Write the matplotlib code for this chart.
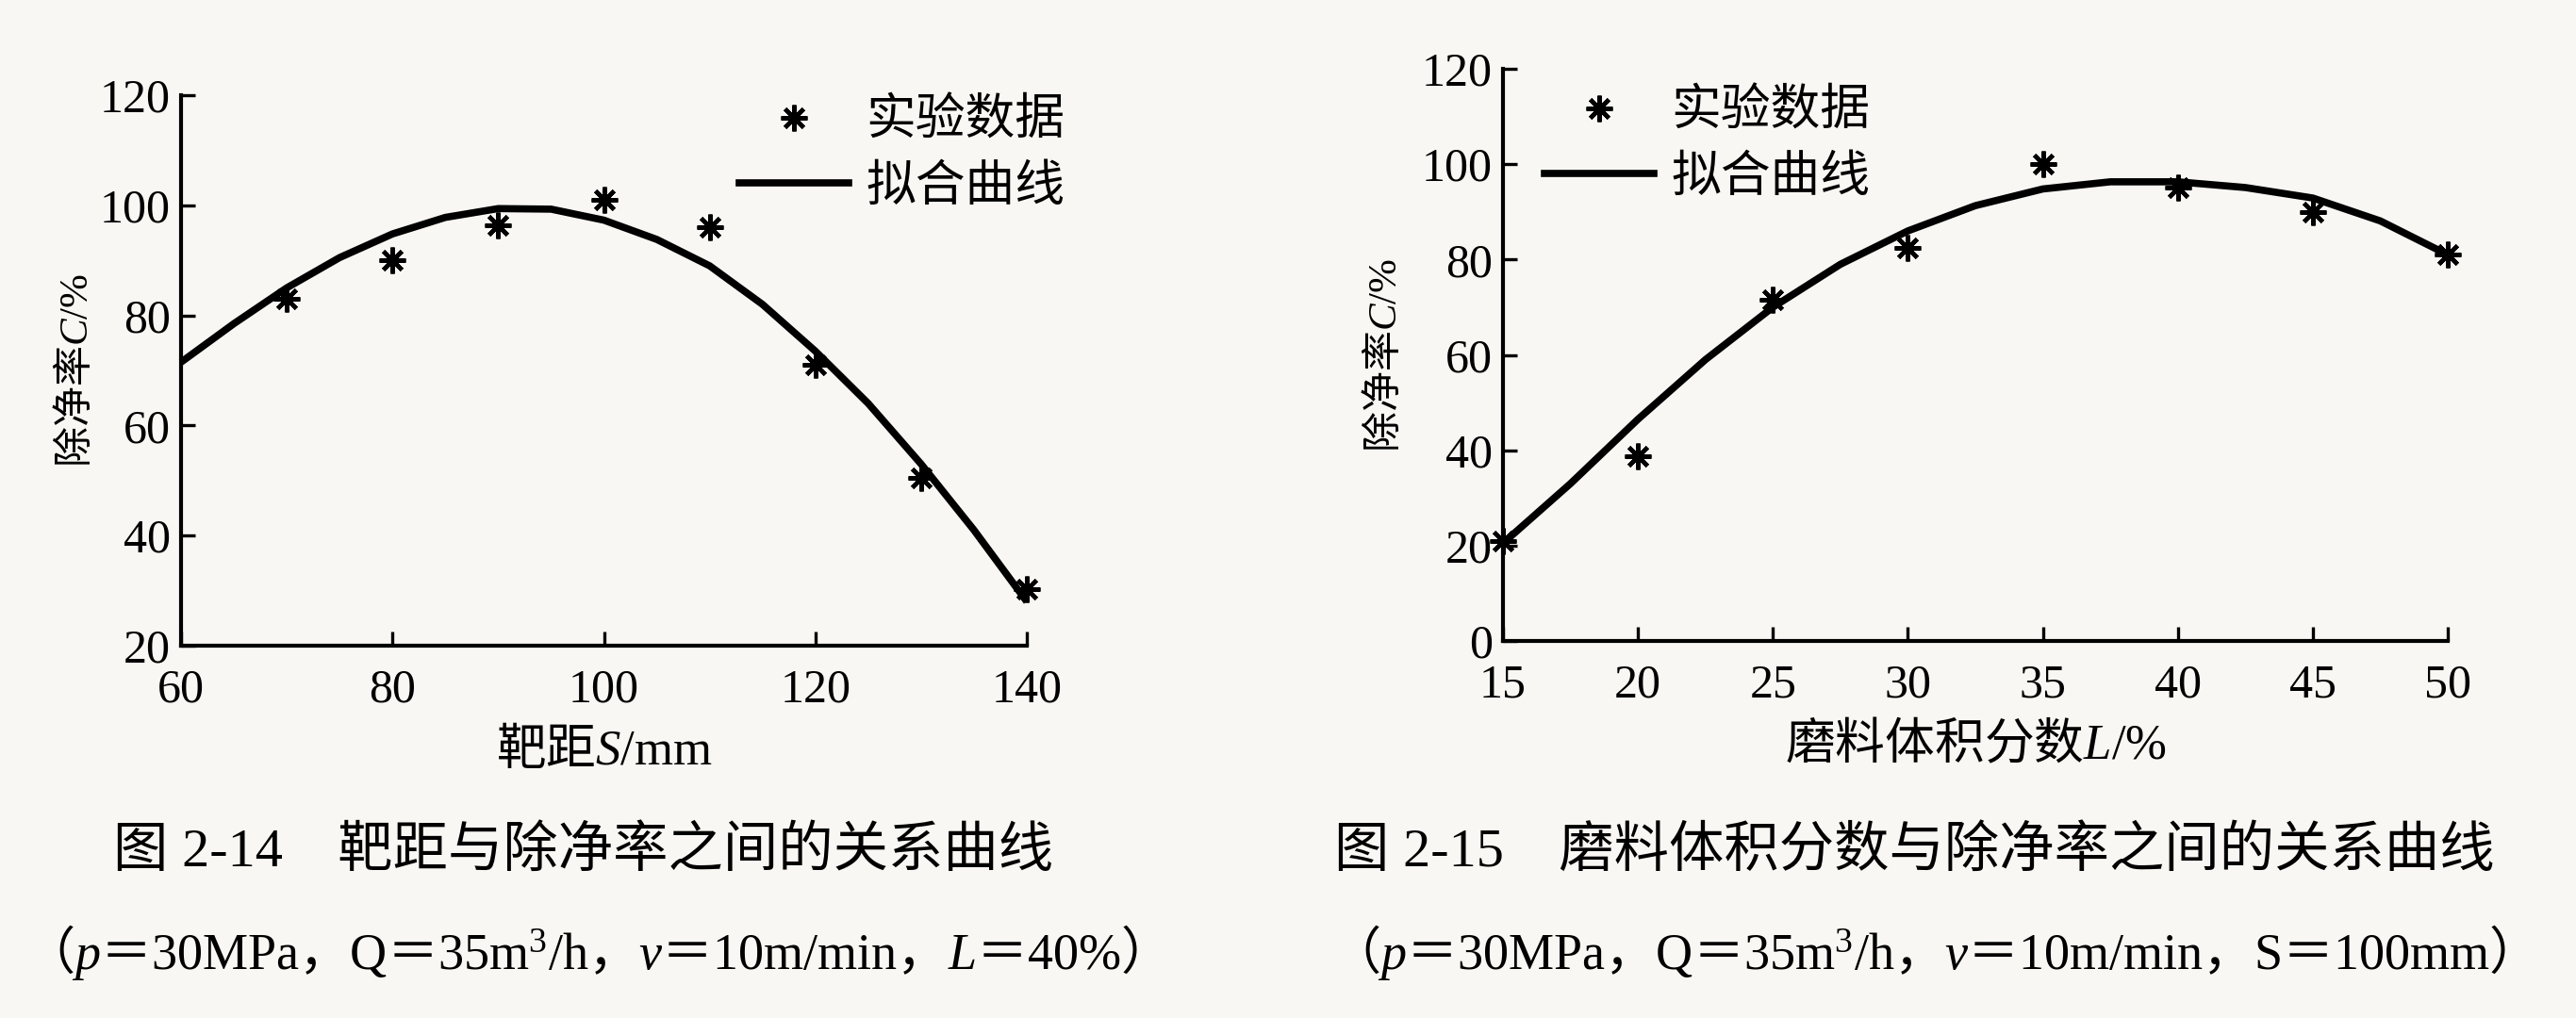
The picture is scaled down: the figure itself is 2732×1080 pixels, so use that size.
import numpy as np
import matplotlib
matplotlib.use('Agg')
import matplotlib.pyplot as plt

plt.rcParams['font.family'] = ['Liberation Serif', 'Noto Sans CJK SC']
plt.rcParams['mathtext.fontset'] = 'custom'
plt.rcParams['mathtext.rm'] = 'Liberation Serif'
plt.rcParams['mathtext.it'] = 'Liberation Serif:italic'

# fig 2-14: target distance vs removal rate
dist_exp = [70, 80, 90, 100, 110, 120, 130, 140]
rate_exp_a = [83, 90, 96.3, 101, 96, 71, 50.5, 30.3]
dist_fit = [60, 65, 70, 75, 80, 85, 90, 95, 100, 105, 110, 115, 120, 125, 130, 135, 140]
rate_fit_a = [71.5, 78.5, 85, 90.5, 94.8, 97.8, 99.4, 99.3, 97.3, 93.8, 89, 82, 73.5, 64, 53, 41, 28]

# fig 2-15: abrasive volume fraction vs removal rate
frac_exp = [15, 20, 25, 30, 35, 40, 45, 50]
rate_exp_b = [21, 38.7, 71.5, 82.5, 100, 95, 90, 81]
frac_fit = [15, 17.5, 20, 22.5, 25, 27.5, 30, 32.5, 35, 37.5, 40, 42.5, 45, 47.5, 50]
rate_fit_b = [20.5, 33, 46.5, 59, 70, 79, 86, 91.3, 94.8, 96.3, 96.3, 95.1, 92.9, 88.1, 81]

bg = '#f8f7f3'
W, H = 2732, 1080
fig = plt.figure(figsize=(W / 100, H / 100), dpi=100, facecolor=bg)

cjk = 'Noto Sans CJK SC'
serif_cjk = ['Liberation Serif', 'Noto Sans CJK SC']
star = (8, 2, 0)


def style_axes(ax):
    ax.set_facecolor(bg)
    for s in ['top', 'right']:
        ax.spines[s].set_visible(False)
    for s in ['left', 'bottom']:
        ax.spines[s].set_linewidth(3.0)
    ax.tick_params(direction='in', length=11, width=2.4, labelsize=36)
    ax.tick_params(axis='x', pad=17)
    ax.tick_params(axis='y', pad=8)
    for lab in ax.get_xticklabels() + ax.get_yticklabels():
        lab.set_family('Liberation Serif')


def add_legend(ax, anchor):
    h1, = ax.plot([], [], linestyle='none', marker=star, ms=20, mew=3.2, color='black')
    h2, = ax.plot([], [], color='black', lw=5.5)
    leg = ax.legend([h1, h2], ['实验数据', '拟合曲线'], frameon=False,
                    loc='upper left', bbox_to_anchor=anchor, bbox_transform=fig.transFigure,
                    prop={'family': cjk, 'size': 38}, handlelength=2.2, handletextpad=0.35,
                    labelspacing=0.28, borderpad=0, borderaxespad=0)
    return leg


# left chart
ax1 = fig.add_axes([192 / W, 1 - 685 / H, (1089 - 192) / W, (685 - 101) / H])
ax1.plot(dist_fit, rate_fit_a, color='black', lw=5.5, solid_capstyle='butt', clip_on=False)
ax1.plot(dist_exp, rate_exp_a, linestyle='none', marker=star, ms=20, mew=3.2,
         color='black', clip_on=False)
ax1.set_xlim(60, 140)
ax1.set_ylim(20, 120)
ax1.set_xticks([60, 80, 100, 120, 140])
ax1.set_yticks([20, 40, 60, 80, 100, 120])
style_axes(ax1)
ax1.set_xlabel('靶距$\\mathit{S}\\mathrm{/mm}$', family=cjk, fontsize=38, labelpad=9)
ax1.set_ylabel('除净率$\\mathit{C}\\mathrm{/\\%}$', family=cjk, fontsize=31, labelpad=2)
add_legend(ax1, (784 / W, 1 - 100 / H))

# right chart
ax2 = fig.add_axes([1594 / W, 1 - 680 / H, (2596 - 1594) / W, (680 - 73) / H])
ax2.plot(frac_fit, rate_fit_b, color='black', lw=5.5, solid_capstyle='butt', clip_on=False)
ax2.plot(frac_exp, rate_exp_b, linestyle='none', marker=star, ms=20, mew=3.2,
         color='black', clip_on=False)
ax2.set_xlim(15, 50)
ax2.set_ylim(0, 120)
ax2.set_xticks([15, 20, 25, 30, 35, 40, 45, 50])
ax2.set_yticks([0, 20, 40, 60, 80, 100, 120])
style_axes(ax2)
ax2.set_xlabel('磨料体积分数$\\mathit{L}\\mathrm{/\\%}$', family=cjk, fontsize=38, labelpad=9)
ax2.set_ylabel('除净率$\\mathit{C}\\mathrm{/\\%}$', family=cjk, fontsize=31, labelpad=12)
add_legend(ax2, (1638 / W, 1 - 90 / H))

# captions
fig.text(619 / W, 1 - 903 / H, '图 2-14　靶距与除净率之间的关系曲线', family=serif_cjk,
         fontsize=42, ha='center', va='center')
fig.text(616 / W, 1 - 1010 / H,
         '（$\\mathit{p}$＝$\\mathrm{30MPa}$，$\\mathrm{Q}$＝$\\mathrm{35m^3/h}$，'
         '$\\mathit{v}$＝$\\mathrm{10m/min}$，$\\mathit{L}$＝$\\mathrm{40\\%}$）',
         family=cjk, fontsize=39, ha='center', va='center')
fig.text(2030 / W, 1 - 903 / H, '图 2-15　磨料体积分数与除净率之间的关系曲线', family=serif_cjk,
         fontsize=42, ha='center', va='center')
fig.text(2034 / W, 1 - 1010 / H,
         '（$\\mathit{p}$＝$\\mathrm{30MPa}$，$\\mathrm{Q}$＝$\\mathrm{35m^3/h}$，'
         '$\\mathit{v}$＝$\\mathrm{10m/min}$，$\\mathrm{S}$＝$\\mathrm{100mm}$）',
         family=cjk, fontsize=39, ha='center', va='center')

fig.savefig('out.png', dpi=100, facecolor=bg)
